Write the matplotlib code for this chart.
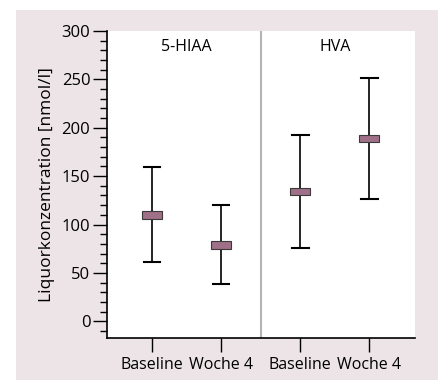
import matplotlib
matplotlib.use("Agg")
import matplotlib.pyplot as plt
from matplotlib.patches import Rectangle
from matplotlib.ticker import MultipleLocator

plt.rcParams['font.family'] = ['Open Sans', 'DejaVu Sans']

categories = ["Baseline", "Woche 4", "Baseline", "Woche 4"]
groups = ["5-HIAA", "HVA"]
means = [110, 79, 134, 189]
upper = [159, 120, 192, 251]
lower = [61, 38, 76, 126]
yticks = [0, 50, 100, 150, 200, 250, 300]

positions = [0, 1, 2.15, 3.15]

fig = plt.figure(figsize=(4.39, 3.80), dpi=100)
fig.patches.append(Rectangle((16/439, 0), 1 - 16/439, 1 - 10/380,
                             transform=fig.transFigure, facecolor="#ede4e8",
                             edgecolor="none", zorder=-10))
ax = fig.add_axes([107/439, 1 - 337.7/380, (415 - 107)/439, (337.7 - 31)/380])
ax.set_zorder(1)
ax.set_facecolor("white")

for x, m, u, l in zip(positions, means, upper, lower):
    ax.plot([x, x], [l, u], color="black", lw=1.2, zorder=2)
    ax.plot([x - 0.12, x + 0.12], [u, u], color="black", lw=1.5, zorder=2)
    ax.plot([x - 0.12, x + 0.12], [l, l], color="black", lw=1.5, zorder=2)
    ax.bar(x, 8, bottom=m - 4, width=0.29, color="#a07088",
           edgecolor="#3a3a3a", linewidth=0.8, zorder=3)

sep = (positions[1] + positions[2]) / 2
ax.axvline(sep, color="#b4b4b4", lw=1.5, zorder=1)

fs = 12
ax.text((positions[0] + positions[1]) / 2, 283, groups[0], ha="center", va="center", fontsize=11.5)
ax.text((positions[2] + positions[3]) / 2, 283, groups[1], ha="center", va="center", fontsize=11.5)

ax.set_xlim(-0.65, 3.81)
ax.set_ylim(-17, 300)
ax.set_xticks(positions)
ax.set_xticklabels(categories, fontsize=11.5)
ax.set_yticks(yticks)
ax.set_yticklabels([str(t) for t in yticks], fontsize=fs)
ax.yaxis.set_minor_locator(MultipleLocator(10))
ax.tick_params(axis="y", which="major", length=10, width=1, pad=2, direction="out")
ax.tick_params(axis="y", which="minor", length=5, width=1, direction="out")
ax.tick_params(axis="x", which="major", length=10, width=1, pad=4, direction="out")
for s in ["top", "right"]:
    ax.spines[s].set_visible(False)
for s in ["left", "bottom"]:
    ax.spines[s].set_linewidth(1.2)
ax.set_ylabel("Liquorkonzentration [nmol/l]", fontsize=12.5, labelpad=5)

fig.savefig("out.png", dpi=100)
